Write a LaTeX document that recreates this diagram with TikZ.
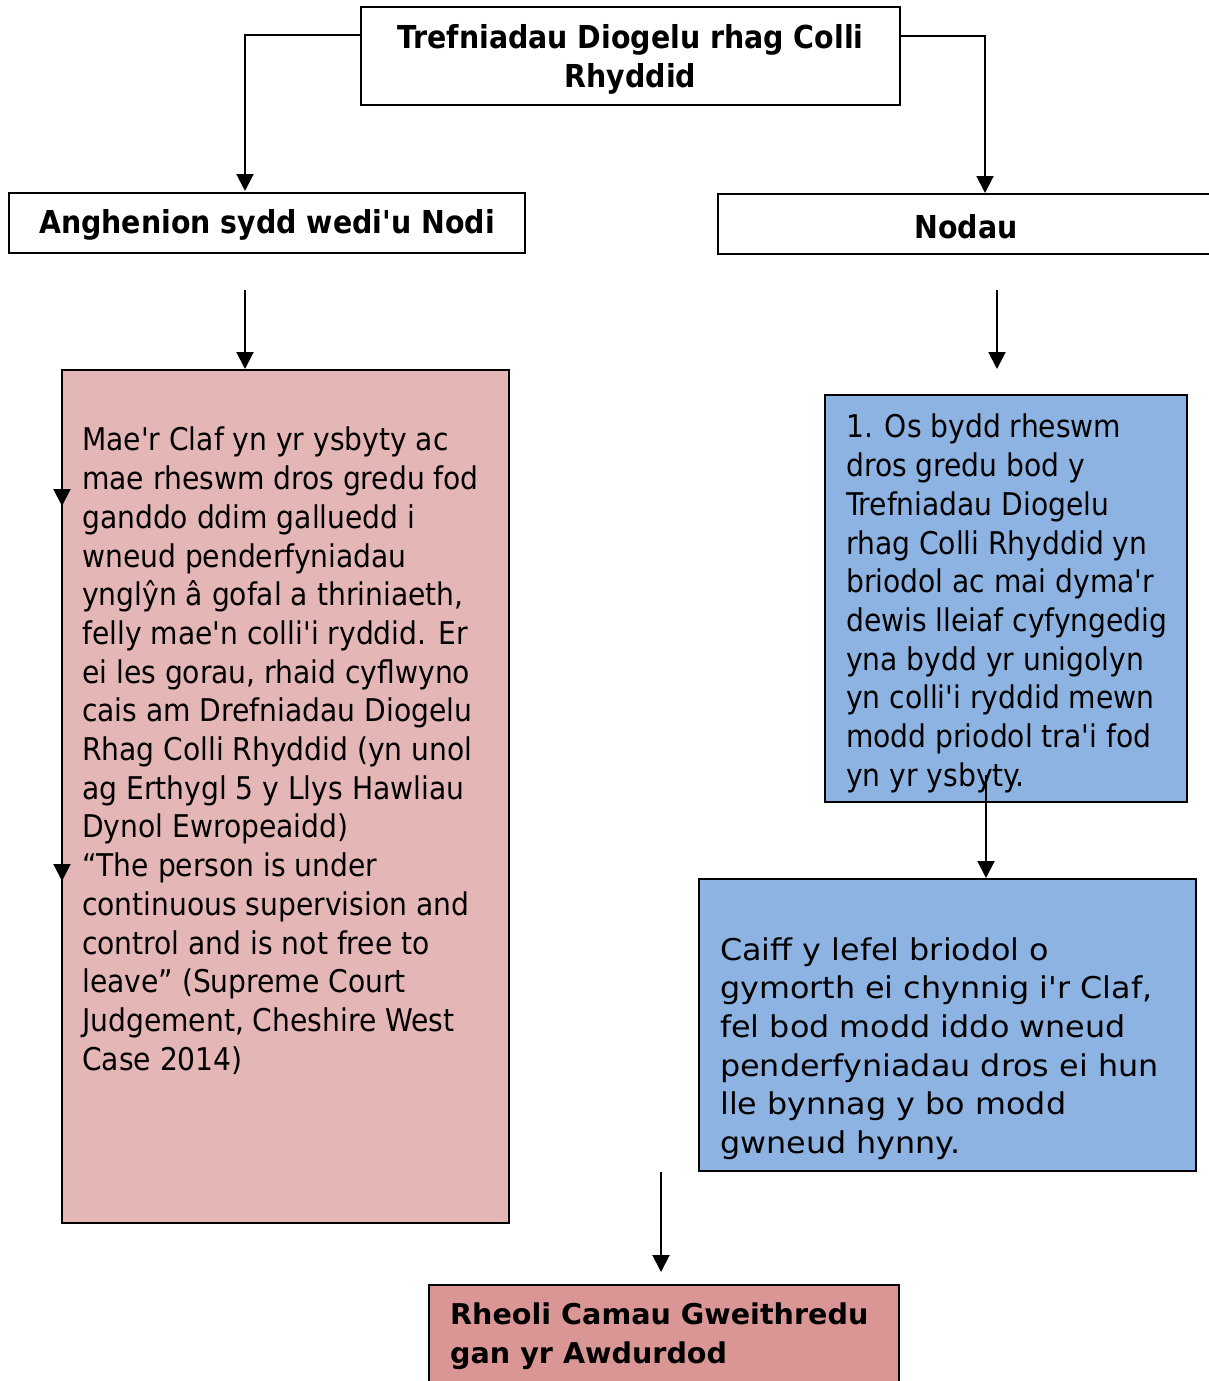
\documentclass[tikz,border=0pt]{standalone}
\usepackage{fontspec}
\setmainfont{DejaVu Sans}
\newfontfamily\tahomafont{DejaVu Sans Condensed}
\newfontfamily\verdanafont[FakeStretch=1.06]{DejaVu Sans}
\usetikzlibrary{arrows.meta}

\definecolor{needspink}{HTML}{E5B6B6}
\definecolor{aimsblue}{HTML}{8DB3E2}
\definecolor{actionred}{HTML}{D99694}

\begin{document}
\begin{tikzpicture}[x=1pt,y=-1pt,
  box/.style={draw=black,line width=1.6pt,rectangle,inner sep=0pt,outer sep=0pt,anchor=north west},
  headtext/.style={font=\tahomafont\bfseries\fontsize{31.6}{39}\selectfont,align=center},
  bodytext/.style={font=\tahomafont\fontsize{31.3}{38.7}\selectfont,align=left,inner sep=0pt,anchor=north west},
  widetext/.style={font=\verdanafont\fontsize{30}{38.7}\selectfont,align=left,inner sep=0pt,anchor=north west},
  arrow/.style={line width=2pt,-{Triangle[length=17pt,width=17pt]}}]
  \useasboundingbox (0,0) rectangle (1209,1381);

  % boxes
  \node[box,minimum width=539,minimum height=98] (top) at (361,7) {};
  \node[headtext] (toptext) at (630.5,59) {Trefniadau Diogelu rhag Colli\\Rhyddid};

  \node[box,minimum width=516,minimum height=60] (needs) at (9,193) {};
  \node[headtext] (needstext) at (267,225) {Anghenion sydd wedi'u Nodi};

  \node[box,minimum width=496,minimum height=60] (aims) at (718,194) {};
  \node[headtext] (aimstext) at (966,227) {Nodau};

  \node[box,fill=needspink,minimum width=447,minimum height=853] (patient) at (62,370) {};
  \node[bodytext] (patienttext) at (82,427) {Mae'r Claf yn yr ysbyty ac\\
    mae rheswm dros gredu fod\\
    ganddo ddim galluedd i\\
    wneud penderfyniadau\\
    ynglŷn â gofal a thriniaeth,\\
    felly mae'n colli'i ryddid. Er\\
    ei les gorau, rhaid cyflwyno\\
    cais am Drefniadau Diogelu\\
    Rhag Colli Rhyddid (yn unol\\
    ag Erthygl 5 y Llys Hawliau\\
    Dynol Ewropeaidd)\\
    “The person is under\\
    continuous supervision and\\
    control and is not free to\\
    leave” (Supreme Court\\
    Judgement, Cheshire West\\
    Case 2014)};

  \node[box,fill=aimsblue,minimum width=362,minimum height=407] (aimone) at (825,395) {};
  \node[bodytext] (aimonetext) at (846,414) {1. Os bydd rheswm\\
    dros gredu bod y\\
    Trefniadau Diogelu\\
    rhag Colli Rhyddid yn\\
    briodol ac mai dyma'r\\
    dewis lleiaf cyfyngedig\\
    yna bydd yr unigolyn\\
    yn colli'i ryddid mewn\\
    modd priodol tra'i fod\\
    yn yr ysbyty.};

  \node[box,fill=aimsblue,minimum width=497,minimum height=292] (support) at (699,879) {};
  \node[widetext] (supporttext) at (720,937) {Caiff y lefel briodol o\\
    gymorth ei chynnig i'r Claf,\\
    fel bod modd iddo wneud\\
    penderfyniadau dros ei hun\\
    lle bynnag y bo modd\\
    gwneud hynny.};

  \node[box,fill=actionred,minimum width=470,minimum height=110] (action) at (429,1285) {};
  \node[widetext,font=\bfseries\fontsize{28.6}{38.7}\selectfont] (actiontext) at (450,1303) {Rheoli Camau Gweithredu\\
    gan yr Awdurdod};

  % connectors
  \coordinate (topL) at (361,35);
  \coordinate (topR) at (900,36);
  \coordinate (needsN) at (245,191);
  \coordinate (aimsN) at (985,193);
  \draw[arrow] (topL) -| (needsN);
  \draw[arrow] (topR) -| (aimsN);

  \coordinate (needsA) at (245,290);
  \coordinate (needsB) at (245,369);
  \coordinate (aimsA) at (997,290);
  \coordinate (aimsB) at (997,369);
  \draw[arrow] (needsA) -- (needsB);
  \draw[arrow] (aimsA) -- (aimsB);

  \coordinate (sideA) at (62,425);
  \coordinate (sideB) at (62,506);
  \coordinate (sideC) at (62,828);
  \coordinate (sideD) at (62,881);
  \draw[arrow] (sideA) -- (sideB);
  \draw[arrow] (sideC) -- (sideD);

  \coordinate (aimoneA) at (986,775);
  \coordinate (supportN) at (986,878);
  \draw[arrow] (aimoneA) -- (supportN);

  \coordinate (supportA) at (661,1172);
  \coordinate (actionN) at (661,1272);
  \draw[arrow] (supportA) -- (actionN);
\end{tikzpicture}
\end{document}
